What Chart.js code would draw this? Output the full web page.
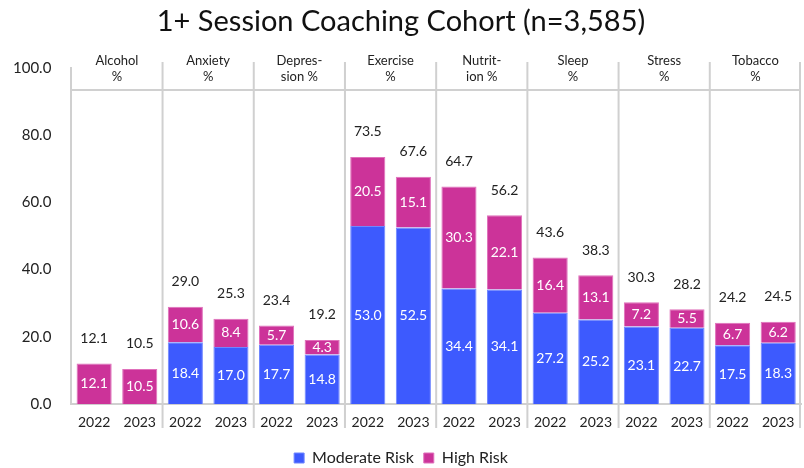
<!DOCTYPE html>
<html>
<head>
<meta charset="utf-8">
<script src="https://cdn.jsdelivr.net/npm/chart.js@4"></script>
<style>
  html, body { margin: 0; padding: 0; background: #fff; }
  #wrap { width: 804px; height: 468px; }
</style>
</head>
<body>
<div id="wrap"><canvas id="cohort" width="804" height="468"></canvas></div>
<script>
// one entry per group (header text is split into lines)
const groups = [
    ['Alcohol', '%'],
    ['Anxiety', '%'],
    ['Depres-', 'sion %'],
    ['Exercise', '%'],
    ['Nutrit-', 'ion %'],
    ['Sleep', '%'],
    ['Stress', '%'],
    ['Tobacco', '%']
];
const years = ['2022', '2023'];

// two values per group: 2022, 2023
const moderate = [0, 0, 18.4, 17.0, 17.7, 14.8, 53.0, 52.5, 34.4, 34.1, 27.2, 25.2, 23.1, 22.7, 17.5, 18.3];
const high = [12.1, 10.5, 10.6, 8.4, 5.7, 4.3, 20.5, 15.1, 30.3, 22.1, 16.4, 13.1, 7.2, 5.5, 6.7, 6.2];
const totals = [12.1, 10.5, 29.0, 25.3, 23.4, 19.2, 73.5, 67.6, 64.7, 56.2, 43.6, 38.3, 30.3, 28.2, 24.2, 24.5];

const yTicks = [0, 20, 40, 60, 80, 100];

const labels = [];
groups.forEach(() => {
    years.forEach(y => labels.push(y));
});

const FONT = 'Lato, "Open Sans", sans-serif';
const lineColor = '#d0d0d0';

const overlay = {
    id: 'overlay',
    beforeDatasetsDraw(chart) {
        const ctx = chart.ctx;
        const area = chart.chartArea;
        const x = chart.scales.x;
        ctx.save();
        ctx.strokeStyle = lineColor;
        ctx.lineWidth = 2;
        // header underline
        ctx.beginPath();
        ctx.moveTo(area.left, 90);
        ctx.lineTo(area.right, 90);
        ctx.stroke();
        // group separators
        for (let k = 1; k <= groups.length; k++) {
            let px;
            if (k === groups.length) {
                px = area.right - 1;
            } else {
                px = (x.getPixelForValue(2 * k - 1) + x.getPixelForValue(2 * k)) / 2;
            }
            ctx.beginPath();
            ctx.moveTo(px, 62);
            ctx.lineTo(px, 428);
            ctx.stroke();
        }
        // header text
        ctx.fillStyle = '#222';
        ctx.font = '13px ' + FONT;
        ctx.textAlign = 'center';
        ctx.textBaseline = 'middle';
        groups.forEach((g, i) => {
            const cx = (x.getPixelForValue(2 * i) + x.getPixelForValue(2 * i + 1)) / 2;
            g.forEach((line, j) => {
                ctx.fillText(line, cx, 61 + j * 16);
            });
        });
        ctx.restore();
    },
    afterDatasetsDraw(chart) {
        const ctx = chart.ctx;
        ctx.save();
        ctx.font = '14px ' + FONT;
        ctx.textAlign = 'center';
        ctx.textBaseline = 'middle';
        ctx.fillStyle = '#fff';
        chart.data.datasets.forEach((ds, di) => {
            const meta = chart.getDatasetMeta(di);
            meta.data.forEach((bar, i) => {
                const v = ds.data[i];
                if (!v) return;
                ctx.fillText(v.toFixed(1), bar.x, (bar.y + bar.base) / 2);
            });
        });
        // totals above the stack
        ctx.fillStyle = '#222';
        const top = chart.getDatasetMeta(1);
        top.data.forEach((bar, i) => {
            ctx.fillText(totals[i].toFixed(1), bar.x, bar.y - 25);
        });
        ctx.restore();
    }
};

new Chart(document.getElementById('cohort'), {
    type: 'bar',
    data: {
        labels: labels,
        datasets: [{
            label: 'Moderate Risk',
            data: moderate,
            backgroundColor: '#3d5afe',
            borderColor: '#6f86ff',
            borderWidth: 1
        }, {
            label: 'High Risk',
            data: high,
            backgroundColor: '#cc3399',
            borderColor: '#e070bb',
            borderWidth: 1
        }]
    },
    options: {
        responsive: false,
        animation: false,
        barPercentage: 0.77,
        categoryPercentage: 1.0,
        layout: {
            padding: { left: 1, right: 3, top: 0, bottom: -8 }
        },
        scales: {
            x: {
                stacked: true,
                grid: { display: false },
                border: { display: true, color: lineColor, width: 2 },
                ticks: { color: '#222', font: { family: FONT, size: 14 }, padding: 2 },
                afterFit: axis => { axis.height += 7; }
            },
            y: {
                stacked: true,
                min: 0,
                max: 100,
                afterBuildTicks: axis => {
                    axis.ticks = yTicks.map(v => ({ value: v }));
                },
                grid: { display: false },
                border: { display: true, color: lineColor, width: 2 },
                ticks: {
                    color: '#222',
                    font: { family: FONT, size: 15 },
                    padding: 12,
                    callback: v => v.toFixed(1)
                }
            }
        },
        plugins: {
            title: {
                display: true,
                text: '1+ Session Coaching Cohort (n=3,585)',
                color: '#111',
                font: { family: FONT, size: 29, weight: 'normal' },
                padding: { top: 4, bottom: 29 }
            },
            legend: {
                position: 'bottom',
                labels: {
                    color: '#222',
                    font: { family: FONT, size: 16 },
                    boxWidth: 10,
                    boxHeight: 10,
                    padding: 10
                }
            },
            tooltip: { enabled: false }
        }
    },
    plugins: [overlay]
});
</script>
</body>
</html>
